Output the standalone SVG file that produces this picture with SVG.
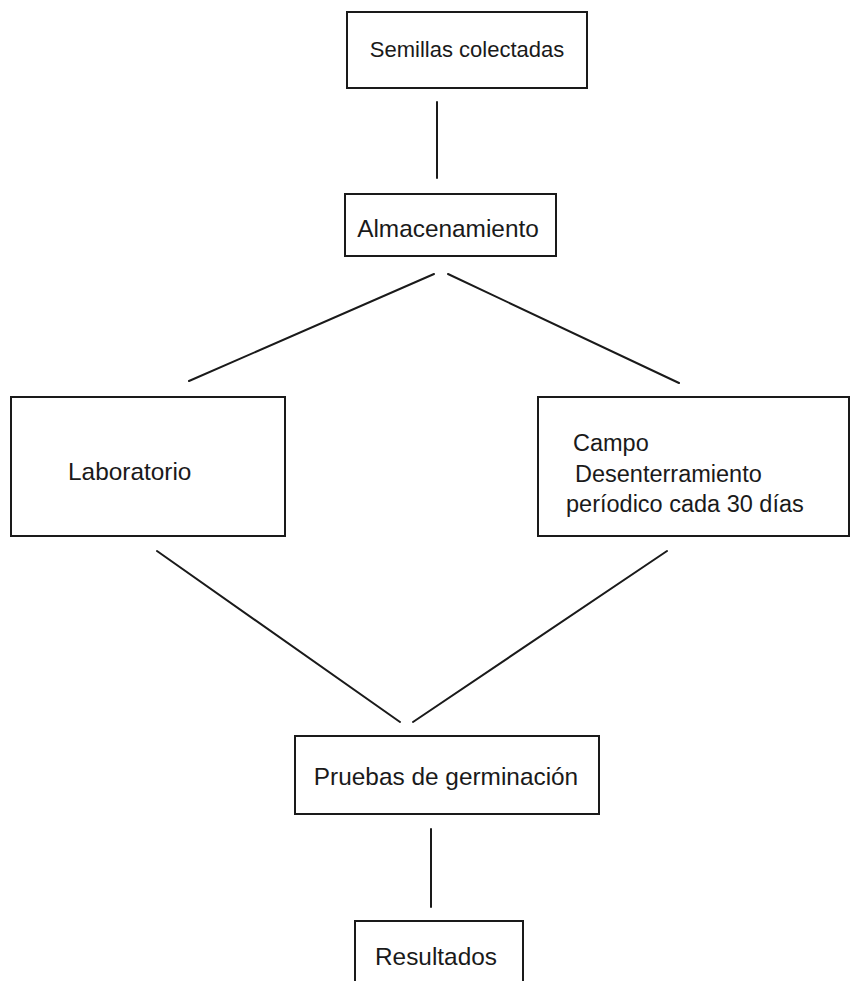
<svg xmlns="http://www.w3.org/2000/svg" width="851" height="981" viewBox="0 0 851 981">
<style>
.box{fill:#fff;stroke:#1a1a1a;stroke-width:2}
.lbl{font-family:"Liberation Sans",Arial,sans-serif;font-size:24.4px;fill:#1a1a1a}
.c line{stroke:#1a1a1a;stroke-width:2;stroke-linecap:round}
</style>
<rect width="851" height="981" fill="#fff"/>
<g class="c" id="connectors">
<line x1="437" y1="102" x2="437" y2="178"/>
<line x1="434" y1="274" x2="189" y2="381"/>
<line x1="448" y1="274" x2="679" y2="383"/>
<line x1="157" y1="551" x2="400" y2="722"/>
<line x1="667" y1="551" x2="413" y2="722"/>
<line x1="431" y1="829" x2="431" y2="907"/>
</g>
<g id="semillas"><rect class="box" x="347" y="12" width="240" height="76"/><text class="lbl" x="467" y="57" text-anchor="middle" style="font-size:22px">Semillas colectadas</text></g>
<g id="almacenamiento"><rect class="box" x="345" y="194" width="211" height="62"/><text class="lbl" x="448" y="237" text-anchor="middle">Almacenamiento</text></g>
<g id="laboratorio"><rect class="box" x="11" y="397" width="274" height="139"/><text class="lbl" x="68" y="480">Laboratorio</text></g>
<g id="campo"><rect class="box" x="538" y="397" width="311" height="139"/><text class="lbl" x="573" y="451" style="font-size:23.5px">Campo</text><text class="lbl" x="575" y="482" style="font-size:23.5px">Desenterramiento</text><text class="lbl" x="566" y="512" style="font-size:23.5px">períodico cada 30 días</text></g>
<g id="pruebas"><rect class="box" x="295" y="736" width="304" height="78"/><text class="lbl" x="446" y="785" text-anchor="middle">Pruebas de germinación</text></g>
<g id="resultados"><rect class="box" x="355" y="921" width="168" height="70"/><text class="lbl" x="436" y="965" text-anchor="middle">Resultados</text></g>
</svg>
